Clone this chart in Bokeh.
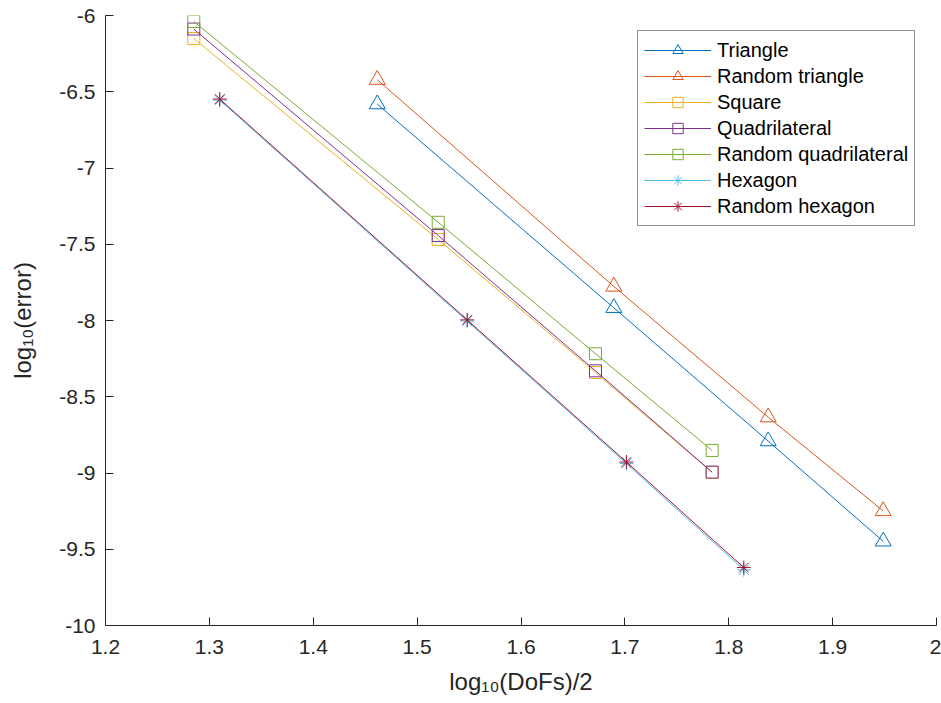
from bokeh.plotting import figure
from bokeh.models import FixedTicker, Legend, LegendItem, Range1d
from bokeh.embed import file_html
from bokeh.resources import INLINE

# ---- data ----
x_tri = [1.4616, 1.6894, 1.8380, 1.9487]
y_triangle = [-6.581, -7.917, -8.791, -9.448]
y_rand_triangle = [-6.421, -7.777, -8.634, -9.249]

x_quad = [1.2850, 1.5203, 1.6717, 1.7840]
y_square = [-6.151, -7.469, -8.341, -8.997]
y_quadrilateral = [-6.089, -7.443, -8.330, -8.994]
y_rand_quadrilateral = [-6.039, -7.356, -8.218, -8.852]

x_hex = [1.3100, 1.5482, 1.7015, 1.8145]
y_hexagon = [-6.555, -8.004, -8.938, -9.635]
y_rand_hexagon = [-6.548, -7.996, -8.928, -9.620]

series_names = ["Triangle", "Random triangle", "Square", "Quadrilateral",
                "Random quadrilateral", "Hexagon", "Random hexagon"]

x_ticks = [1.2, 1.3, 1.4, 1.5, 1.6, 1.7, 1.8, 1.9, 2.0]
x_tick_labels = ["1.2", "1.3", "1.4", "1.5", "1.6", "1.7", "1.8", "1.9", "2"]
y_ticks = [-10.0, -9.5, -9.0, -8.5, -8.0, -7.5, -7.0, -6.5, -6.0]
y_tick_labels = ["-10", "-9.5", "-9", "-8.5", "-8", "-7.5", "-7", "-6.5", "-6"]

x_title = "log\u2081\u2080(DoFs)/2"
y_title = "log\u2081\u2080(error)"

series = [
    (x_tri, y_triangle, "#0072BD", "triangle", 16),
    (x_tri, y_rand_triangle, "#D95319", "triangle", 16),
    (x_quad, y_square, "#EDB120", "square", 12),
    (x_quad, y_quadrilateral, "#7E2F8E", "square", 12),
    (x_quad, y_rand_quadrilateral, "#77AC30", "square", 12),
    (x_hex, y_hexagon, "#4DBEEE", "asterisk", 14),
    (x_hex, y_rand_hexagon, "#A2142F", "asterisk", 14),
]

FONT = "Liberation Sans"
DARK = "#262626"

p = figure(width=941, height=703, output_backend="svg", toolbar_location=None,
           x_range=Range1d(1.2, 2.0), y_range=Range1d(-10, -6),
           min_border_left=105, min_border_right=5, min_border_top=15,
           min_border_bottom=78)
p.background_fill_color = "white"
p.border_fill_color = "white"
p.outline_line_color = None
p.xgrid.visible = False
p.ygrid.visible = False

for ax, ticks, labels, standoff, title, tstand in (
        (p.xaxis[0], x_ticks, x_tick_labels, 14, x_title, 11),
        (p.yaxis[0], y_ticks, y_tick_labels, 10, y_title, 20)):
    ax.ticker = FixedTicker(ticks=ticks)
    ax.major_label_overrides = {t: l for t, l in zip(ticks, labels)}
    ax.major_tick_in = 8
    ax.major_tick_out = 0
    ax.minor_tick_line_color = None
    ax.axis_line_color = DARK
    ax.major_tick_line_color = DARK
    ax.major_label_text_font = FONT
    ax.major_label_text_font_size = "21px"
    ax.major_label_text_color = DARK
    ax.major_label_standoff = standoff
    ax.axis_label = title
    ax.axis_label_text_font = FONT
    ax.axis_label_text_font_size = "24px"
    ax.axis_label_text_font_style = "normal"
    ax.axis_label_text_color = DARK
    ax.axis_label_standoff = tstand

items = []
for (xs, ys, color, marker, size), name in zip(series, series_names):
    r1 = p.line(xs, ys, line_color=color, line_width=1)
    r2 = p.scatter(xs, ys, marker=marker, size=size, line_color=color,
                   fill_color=None, line_width=1)
    items.append(LegendItem(label=name, renderers=[r1, r2]))

legend = Legend(items=items, location=(532, 399), glyph_width=67, glyph_height=26,
                label_height=26, spacing=0, padding=6, margin=0, label_standoff=6,
                label_text_font=FONT, label_text_font_size="20px",
                label_text_color="#000000", border_line_color=DARK,
                border_line_width=1, background_fill_color="white",
                background_fill_alpha=1.0)
p.add_layout(legend)

open("out.html", "w").write(file_html(p, INLINE))
